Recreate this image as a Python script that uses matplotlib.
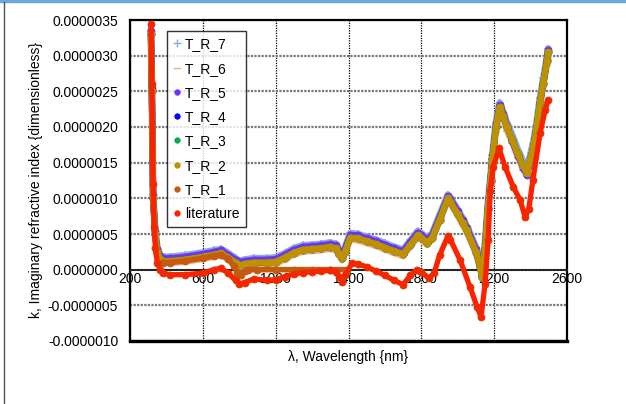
import matplotlib
matplotlib.use("Agg")
import matplotlib.pyplot as plt
from matplotlib.lines import Line2D
import numpy as np

plt.rcParams['font.family'] = ['Liberation Sans', 'DejaVu Sans']

# ---- data (k values in units of 1e-6) ----
wl_tr = [315, 320, 327, 338, 350, 365, 380, 420, 500, 600,
         660, 700, 740, 780, 800, 830, 880, 950, 1000, 1050,
         1100, 1150, 1200, 1250, 1300, 1330, 1350, 1365, 1380, 1410,
         1450, 1500, 1550, 1600, 1650, 1700, 1740, 1780, 1800, 1830,
         1860, 1900, 1946, 1960, 2000, 2029, 2050, 2100, 2122, 2133,
         2150, 2165, 2180, 2190, 2210, 2230, 2250, 2270, 2300, 2330,
         2360, 2380, 2413, 2430, 2452, 2470, 2490, 2497]

k_tr2 = [3.30, 2.50, 1.00, 0.50, 0.25, 0.15, 0.12, 0.12, 0.14, 0.18,
         0.21, 0.23, 0.17, 0.10, 0.06, 0.08, 0.10, 0.10, 0.11, 0.17,
         0.24, 0.28, 0.29, 0.30, 0.32, 0.30, 0.22, 0.16, 0.25, 0.45,
         0.44, 0.40, 0.36, 0.31, 0.26, 0.22, 0.35, 0.48, 0.45, 0.38,
         0.45, 0.70, 1.00, 0.95, 0.78, 0.65, 0.55, 0.25, 0.05, -0.10,
         0.30, 0.85, 1.25, 1.55, 2.00, 2.28, 2.15, 2.00, 1.82, 1.62,
         1.45, 1.36, 1.70, 1.95, 2.35, 2.62, 2.92, 3.05]

k_tr5 = [3.34, 2.55, 1.05, 0.54, 0.29, 0.19, 0.16, 0.16, 0.18, 0.22,
         0.25, 0.27, 0.21, 0.14, 0.11, 0.12, 0.14, 0.14, 0.15, 0.21,
         0.28, 0.32, 0.33, 0.34, 0.36, 0.34, 0.26, 0.20, 0.29, 0.49,
         0.48, 0.44, 0.40, 0.35, 0.30, 0.26, 0.39, 0.52, 0.49, 0.42,
         0.49, 0.74, 1.03, 0.99, 0.82, 0.69, 0.59, 0.29, 0.09, -0.07,
         0.32, 0.86, 1.27, 1.57, 2.03, 2.31, 2.18, 2.02, 1.80, 1.60,
         1.43, 1.33, 1.67, 1.93, 2.33, 2.60, 2.95, 3.08]

k_tr7 = [3.36, 2.56, 1.06, 0.56, 0.31, 0.21, 0.18, 0.18, 0.20, 0.24,
         0.27, 0.29, 0.23, 0.16, 0.12, 0.14, 0.16, 0.16, 0.17, 0.23,
         0.30, 0.34, 0.35, 0.36, 0.38, 0.36, 0.28, 0.22, 0.31, 0.51,
         0.50, 0.46, 0.42, 0.37, 0.32, 0.28, 0.41, 0.54, 0.51, 0.44,
         0.51, 0.76, 1.05, 1.01, 0.84, 0.71, 0.61, 0.31, 0.11, -0.04,
         0.36, 0.91, 1.31, 1.61, 2.06, 2.34, 2.21, 2.06, 1.88, 1.68,
         1.51, 1.42, 1.76, 2.01, 2.41, 2.68, 2.98, 3.10]

k_tr6 = [3.27, 2.47, 0.97, 0.47, 0.22, 0.12, 0.09, 0.09, 0.11, 0.15,
         0.18, 0.20, 0.14, 0.07, 0.03, 0.05, 0.07, 0.07, 0.08, 0.14,
         0.21, 0.25, 0.26, 0.27, 0.29, 0.27, 0.19, 0.13, 0.22, 0.42,
         0.41, 0.37, 0.33, 0.28, 0.23, 0.19, 0.32, 0.45, 0.42, 0.35,
         0.42, 0.67, 0.97, 0.92, 0.75, 0.62, 0.52, 0.22, 0.02, -0.13,
         0.22, 0.78, 1.18, 1.48, 1.93, 2.22, 2.10, 1.95, 1.77, 1.57,
         1.40, 1.31, 1.65, 1.90, 2.30, 2.57, 2.87, 3.00]

# T_R_3 and T_R_4 coincide with T_R_2 in the picture
k_tr4 = list(k_tr2)
k_tr3 = list(k_tr2)

wl_tr1 = [380, 420, 500, 600, 660, 700, 740, 770, 790, 810, 830, 850,
          900, 1000, 1100, 1200, 1300, 1390]
k_tr1 = [0.10, 0.10, 0.12, 0.16, 0.19, 0.21, 0.15, 0.05, -0.05, -0.07,
         -0.02, 0.0, 0.0, 0.0, 0.0, 0.0, 0.0, 0.0]

wl_lit = [315, 320, 326, 333, 340, 350, 365, 380, 420, 500,
          600, 660, 700, 740, 780, 800, 830, 880, 950, 1000,
          1050, 1100, 1150, 1200, 1250, 1300, 1330, 1350, 1365, 1380,
          1420, 1450, 1500, 1550, 1600, 1650, 1700, 1740, 1775, 1800,
          1840, 1870, 1900, 1946, 1960, 2012, 2067, 2106, 2128, 2150,
          2167, 2178, 2195, 2227, 2260, 2305, 2342, 2370, 2390, 2413,
          2452, 2480, 2497]
k_lit = [3.45, 2.60, 1.20, 0.60, 0.30, 0.10, 0.00, -0.05, -0.07, -0.07,
         -0.05, 0.00, 0.02, -0.05, -0.15, -0.20, -0.18, -0.13, -0.15, -0.14,
         -0.10, -0.06, -0.04, -0.03, -0.02, -0.01, -0.03, -0.10, -0.17, -0.08,
         0.09, 0.08, 0.04, -0.02, -0.08, -0.15, -0.21, -0.08, 0.00, -0.03,
         -0.12, -0.05, 0.20, 0.47, 0.42, 0.14, -0.24, -0.52, -0.66, -0.20,
         0.42, 1.10, 1.44, 1.70, 1.44, 1.16, 0.98, 0.74, 0.85, 1.26,
         1.91, 2.24, 2.38]

x_ticks = [200, 600, 1000, 1400, 1800, 2200, 2600]
y_ticks = [-1.0, -0.5, 0.0, 0.5, 1.0, 1.5, 2.0, 2.5, 3.0, 3.5]

series = [
    ("T_R_7", wl_tr, k_tr7, "#8eaadb", "+", 5.0),
    ("T_R_6", wl_tr, k_tr6, "#f4b183", "_", 4.5),
    ("T_R_5", wl_tr, k_tr5, "#7030ff", "o", 4.5),
    ("T_R_4", wl_tr, k_tr4, "#0000ff", "o", 4.5),
    ("T_R_3", wl_tr, k_tr3, "#00b050", "o", 4.5),
    ("T_R_2", wl_tr, k_tr2, "#bf9000", "o", 4.5),
    ("T_R_1", wl_tr1, k_tr1, "#c55a11", "o", 4.0),
    ("literature", wl_lit, k_lit, "#ff2000", "o", 3.8),
]

SCALE = 1e-6
FS = 10

fig = plt.figure(figsize=(6.26, 4.04), dpi=100)
ax = fig.add_axes([130/626, 63/404, 437/626, 321/404])

handles = []
for name, wl, k, col, mk, lw in series:
    y = np.array(k) * SCALE
    ax.plot(wl, y, color=col, lw=lw, solid_capstyle='round', zorder=3)
    ax.plot(wl, y, ls='none', marker=mk, ms=5 if mk == 'o' else 6,
            mfc=col, mec=("#d04000" if name == "literature" else col),
            mew=0.6 if mk == 'o' else 1.2, zorder=3)
    handles.append(Line2D([], [], ls='none', marker=mk, ms=4 if mk == 'o' else 6,
                          color=col, mew=1.0 if mk != 'o' else 0.5, label=name))

ax.set_xlim(200, 2600)
ax.set_ylim(-1.0e-6, 3.5e-6)
ax.set_xticks(x_ticks)
ax.set_yticks(np.array(y_ticks) * SCALE)
ax.set_xticklabels([str(v) for v in x_ticks])
ax.set_yticklabels(["%.7f" % (v * SCALE) for v in y_ticks])

ax.tick_params(axis='both', length=0, labelsize=FS, colors='black')
ax.tick_params(axis='x', pad=2)
ax.tick_params(axis='y', pad=8.5)

ax.xaxis.grid(True, color='black', lw=0.9, ls=(0, (1, 1)))
ax.yaxis.grid(True, color='#777777', lw=1.6, ls=(0, (1, 0.6)))
ax.set_axisbelow(True)

for s in ['left', 'right', 'top']:
    ax.spines[s].set_linewidth(1.6)
    ax.spines[s].set_color('black')
ax.spines['bottom'].set_position(('data', 0))
ax.spines['bottom'].set_linewidth(1.4)
ax.spines['bottom'].set_color('#222222')
ax.axhline(-1.0e-6, color='black', lw=2.4, clip_on=False, zorder=5)

ax.set_ylabel("k, Imaginary refractive index {dimensionless}", fontsize=FS)
ax.yaxis.set_label_coords(-0.2, 0.5)
ax.set_xlabel("λ, Wavelength {nm}", fontsize=FS, labelpad=0)
ax.xaxis.set_label_coords(0.499, -0.028)

leg = ax.legend(handles=handles, loc='upper left',
                bbox_to_anchor=((167-130)/437, (341-31)/321),
                borderaxespad=0, fontsize=FS, frameon=True, fancybox=False,
                edgecolor='black', handlelength=0.6, handletextpad=0.25,
                labelspacing=0.74, borderpad=0.45)
leg.get_frame().set_linewidth(1.0)
leg.set_zorder(6)

# outer frame pieces
fig.add_artist(Line2D([0, 1], [0.997, 0.997], transform=fig.transFigure,
                      color='#6fa8dc', lw=2.5))
fig.add_artist(Line2D([3.5/626, 3.5/626], [0, 0.995], transform=fig.transFigure,
                      color='#555555', lw=1.0))

fig.savefig("out.png", dpi=100)
